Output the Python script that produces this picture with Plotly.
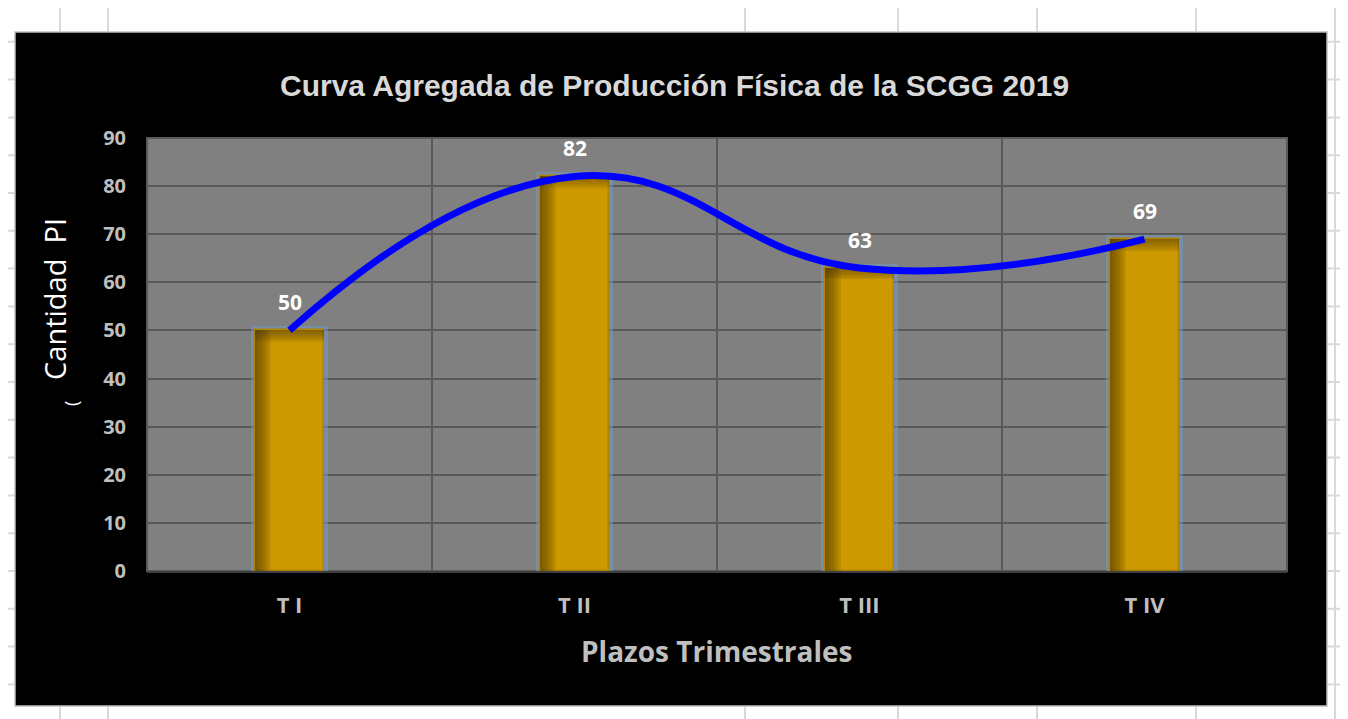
import plotly.graph_objects as go

# ---- data ----
categories = ["T I", "T II", "T III", "T IV"]
values = [50, 82, 63, 69]
labels = ["50", "82", "63", "69"]
y_ticks = [0, 10, 20, 30, 40, 50, 60, 70, 80, 90]

title_text = "Curva Agregada de Producción Física de la SCGG 2019"
y_title = "Cantidad  PI"
x_title = "Plazos Trimestrales"

# ---- geometry (page pixels; the page body adds an 8px margin) ----
BODY = 8
W, H = 1348 - BODY, 719 - BODY
PL, PR, PT, PB = 147, 1287, 138, 571  # plot area in page pixels

def px(x):
    return (x - PL) / (PR - PL)

def py(y):
    return (PB - y) / (PB - PT)

BAR_W = 0.245
OFF = -BAR_W / 2
GOLD = "#CC9900"
FONT = "Open Sans, Lato, sans-serif"

fig = go.Figure()

# glow behind bars
fig.add_trace(go.Bar(x=categories, y=values, width=BAR_W, offset=OFF,
                     marker=dict(color=GOLD, line=dict(color="rgba(110,160,215,0.45)", width=8)),
                     hoverinfo="skip", showlegend=False))
# main bars
fig.add_trace(go.Bar(x=categories, y=values, width=BAR_W, offset=OFF,
                     marker=dict(color=GOLD, line=dict(color="#B08400", width=1.5)),
                     showlegend=False))
# inner shadow on the left side
for w in [0.056, 0.049, 0.042, 0.035, 0.028, 0.021, 0.014, 0.007]:
    fig.add_trace(go.Bar(x=categories, y=values, width=w, offset=OFF,
                         marker=dict(color="rgba(70,45,0,0.1)", line=dict(width=0)),
                         hoverinfo="skip", showlegend=False))
# inner shadow at the top
for h in [2.4, 2.0, 1.6, 1.2, 0.8, 0.4]:
    fig.add_trace(go.Bar(x=categories, y=[h] * len(values), base=[v - h for v in values],
                         width=BAR_W, offset=OFF,
                         marker=dict(color="rgba(70,45,0,0.1)", line=dict(width=0)),
                         hoverinfo="skip", showlegend=False))

# smoothed blue curve
fig.add_trace(go.Scatter(x=categories, y=values, mode="lines",
                         line=dict(color="#0000FF", width=7, shape="spline", smoothing=1.3),
                         showlegend=False))

# data labels
for c, v, t in zip(categories, values, labels):
    fig.add_annotation(x=c, y=v, text=t, showarrow=False, xanchor="center", yanchor="bottom", yshift=12,
                       font=dict(family=FONT, size=21, color="white", weight="bold"))

# ---- background decoration shapes ----
shapes = []
grid_col = "#D9D9D9"
for x in [60, 108, 745, 898, 1037, 1196, 1335]:
    shapes.append(dict(type="line", xref="paper", yref="paper", x0=px(x), x1=px(x), y0=py(0), y1=py(719),
                       line=dict(color=grid_col, width=2), layer="below"))
for k in range(1, 20):
    y = 4 + 37.8 * k
    shapes.append(dict(type="line", xref="paper", yref="paper", x0=px(0), x1=px(1348), y0=py(y), y1=py(y),
                       line=dict(color=grid_col, width=2), layer="below"))
# chart area
shapes.append(dict(type="rect", xref="paper", yref="paper", x0=px(15), x1=px(1327), y0=py(32), y1=py(706),
                   fillcolor="black", line=dict(color="#BFBFBF", width=1.5), layer="below"))
# plot area
shapes.append(dict(type="rect", xref="paper", yref="paper", x0=0, x1=1, y0=0, y1=1,
                   fillcolor="#808080", line=dict(color="#595959", width=2), layer="below"))

def label(x, y, text, font, angle=0):
    fig.add_annotation(xref="paper", yref="paper", x=px(x), y=py(y), text=text, textangle=angle,
                       xanchor="center", yanchor="middle", showarrow=False, font=font)

label(54, 299, y_title, dict(family=FONT, size=29, color="white"), angle=-90)
label(71, 404, "(", dict(family=FONT, size=18, color="white"), angle=-90)
label(716, 651, x_title, dict(family=FONT, size=28, color="#BFBFBF", weight="bold"))
label(674, 86, title_text, dict(family="Liberation Sans, Arial, sans-serif", size=30, color="#D9D9D9",
                                weight="bold"))

fig.update_layout(
    width=W, height=H,
    margin=dict(l=PL - BODY, r=W - (PR - BODY), t=PT - BODY, b=H - (PB - BODY), pad=0),
    paper_bgcolor="white",
    plot_bgcolor="#808080",
    barmode="overlay",
    bargap=0,
    shapes=shapes,
    showlegend=False,
)
fig.update_xaxes(type="category", tickson="boundaries", showgrid=True, gridcolor="#595959", gridwidth=2,
                 showline=True, linecolor="#404040", linewidth=2, ticks="", ticklabelstandoff=14,
                 tickfont=dict(family=FONT, size=22, color="#BFBFBF", weight="bold"),
                 range=[-0.5, 3.5], zeroline=False)
fig.update_yaxes(range=[0, 90], tickvals=y_ticks, showgrid=True, gridcolor="#595959", gridwidth=2,
                 zeroline=False, showline=False, ticks="", ticklabelstandoff=20,
                 tickfont=dict(family=FONT, size=20, color="#BFBFBF", weight="bold"))

fig.write_html("out.html")
